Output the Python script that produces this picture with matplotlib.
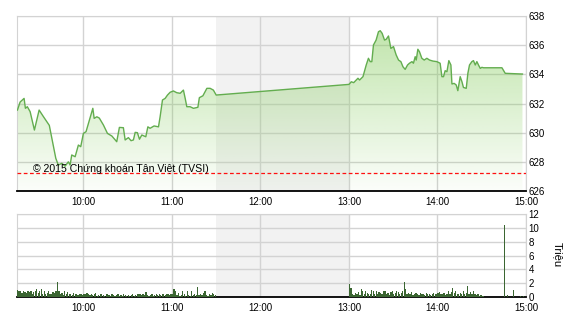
# -*- coding: utf-8 -*-
import numpy as np
import matplotlib
matplotlib.use('Agg')
import matplotlib.pyplot as plt
from matplotlib.patches import Polygon

plt.rcParams['font.family'] = ['Liberation Sans', 'DejaVu Sans']

# thoi gian (phut tu 0h) va gia chi so
t_price = [
  555.3, 557.1, 559.8, 560.7, 562.0, 563.9, 566.8, 570.0, 572.9, 576.9,
  579.3, 581.3, 583.0, 585.4, 587.6, 589.8, 591.0, 592.1, 594.4, 596.6,
  598.2, 600.0, 601.8, 604.1, 606.4, 607.3, 609.1, 610.8, 613.6, 616.3,
  619.3, 622.6, 624.4, 627.1, 628.3, 630.5, 632.3, 633.9, 635.1, 636.6,
  638.0, 639.6, 642.3, 643.7, 645.2, 647.9, 650.9, 652.0, 653.6, 655.4,
  657.0, 658.8, 661.0, 663.3, 665.6, 667.8, 669.0, 670.1, 672.3, 674.6,
  677.6, 678.6, 681.0, 683.7, 685.9, 688.1, 690.0,
  780.0, 781.6, 783.2, 785.0, 786.1, 787.2, 789.5, 791.7, 793.2, 794.4,
  795.5, 796.6, 798.4, 800.0, 801.2, 802.5, 804.1, 805.2, 806.8, 808.4,
  810.2, 812.0, 813.6, 815.2, 816.6, 818.1, 819.7, 821.0, 822.7, 823.7,
  824.9, 825.6, 826.7, 827.8, 829.4, 831.0, 832.8, 834.6, 836.9, 839.6,
  841.8, 843.0, 844.1, 845.2, 846.4, 847.7, 849.1, 849.8, 851.3, 852.7,
  853.8, 855.4, 856.6, 857.6, 859.5, 860.6, 861.7, 863.3, 864.4, 865.6,
  866.7, 867.8, 869.0, 870.1, 871.2, 883.7, 885.9, 897.6]
price = [
  631.55, 632.10, 632.35, 631.67, 631.78, 631.44, 630.18, 631.55, 631.10, 630.50,
  629.27, 628.24, 627.78, 627.90, 627.70, 628.00, 627.78, 628.47, 628.35, 629.15,
  629.04, 629.95, 630.07, 630.87, 631.67, 630.98, 631.09, 631.00, 630.52, 629.95,
  629.77, 629.38, 630.36, 630.34, 629.50, 629.66, 629.45, 629.50, 630.02, 630.00,
  629.55, 629.84, 629.72, 630.40, 630.30, 630.46, 630.40, 631.09, 632.24, 632.35,
  632.58, 632.77, 632.86, 632.74, 632.70, 632.92, 632.35, 631.78, 631.78, 631.67,
  631.74, 632.40, 632.53, 633.04, 633.04, 632.92, 632.58,
  633.31, 633.49, 633.43, 633.61, 633.73, 633.61, 633.84, 634.64, 635.10, 634.87,
  634.87, 636.01, 636.35, 636.92, 636.99, 636.81, 636.35, 636.40, 636.63, 635.78,
  635.90, 635.33, 634.98, 634.87, 634.52, 634.34, 634.64, 634.76, 634.87, 634.76,
  635.21, 634.98, 635.72, 635.55, 635.10, 634.98, 635.10, 634.98, 634.91, 634.87,
  634.76, 633.84, 633.84, 634.25, 634.18, 634.94, 634.64, 633.34, 633.38, 633.27,
  632.88, 633.84, 633.49, 633.10, 633.04, 634.07, 634.64, 634.87, 634.94, 634.64,
  634.87, 634.64, 634.41, 634.48, 634.45, 634.45, 634.07, 634.02]
ref_price = 627.22

# khoi luong (trieu), moi phut
vol_am_start = 555   # 9:15
vol_am = [
  1.0, 0.8, 0.9, 0.6, 0.8, 0.7, 0.6, 0.8, 0.7, 0.9, 0.5, 0.7, 0.8, 1.1, 0.6,
  0.9, 1.2, 0.5, 0.8, 0.4, 0.6, 0.9, 0.5, 0.4, 0.7, 0.6, 0.8, 2.2, 0.9, 0.4,
  0.6, 0.3, 0.9, 0.5, 0.7, 0.4, 0.5, 0.3, 0.6, 0.4, 0.5, 0.3, 0.4, 0.5, 0.3,
  0.5, 0.4, 0.6, 0.4, 0.3, 0.5, 0.3, 0.4, 0.6, 0.2, 0.3, 0.5, 0.4, 0.3, 0.2,
  0.4, 0.5, 0.3, 0.2, 0.4, 0.3, 0.2, 0.3, 0.4, 0.2, 0.3, 0.2, 0.4, 0.3, 0.2,
  0.3, 0.2, 0.3, 0.4, 0.2, 0.3, 0.5, 0.4, 0.4, 0.3, 0.4, 0.3, 0.7, 0.3, 0.2,
  0.3, 0.4, 0.2, 0.3, 0.5, 0.3, 0.4, 0.3, 0.4, 0.4, 0.3, 0.4, 0.5, 0.3, 0.4,
  0.4, 1.1, 0.9, 0.3, 0.6, 0.2, 0.3, 0.9, 0.4, 0.2, 0.8, 0.3, 0.2, 0.9, 0.3,
  0.4, 0.3, 1.4, 0.3, 0.4, 0.3, 0.6, 0.8, 0.3, 0.2, 0.5, 0.3, 0.6, 0.4, 0.3]
vol_pm_start = 780   # 13:00
vol_pm = [
  1.9, 1.3, 0.5, 0.3, 0.6, 0.4, 0.7, 0.3, 1.1, 0.9, 0.4, 0.8, 0.6, 0.5, 0.4,
  1.0, 0.8, 0.5, 0.9, 0.4, 0.7, 0.6, 0.5, 0.9, 0.8, 0.4, 0.6, 0.3, 0.7, 0.8,
  0.5, 0.6, 0.9, 0.7, 0.5, 0.6, 0.8, 2.2, 1.1, 0.5, 0.6, 0.4, 0.7, 0.3, 0.5,
  0.6, 0.4, 0.3, 0.6, 0.5, 0.4, 0.3, 0.6, 0.4, 0.5, 0.3, 0.4, 0.6, 0.5, 0.4,
  0.6, 0.7, 0.5, 0.4, 0.6, 0.3, 0.5, 0.8, 0.4, 0.7, 1.3, 0.6, 0.9, 0.5, 0.4,
  0.6, 0.5, 0.8, 0.4, 0.6, 1.6, 0.5, 0.7, 0.4, 0.9, 0.5, 0.3, 0.4, 0.2, 0.3,
  0.2, 0.1]
t_atc = [885, 887, 891, 896, 898]
vol_atc = [10.4, 0.3, 1.0, 0.2, 0.2]

xticks = [600, 660, 720, 780, 840, 900]
xlabels = ['10:00', '11:00', '12:00', '13:00', '14:00', '15:00']
lunch = (690, 780)
xmin, xmax = 555, 900

grid_c = '#d3d3d3'
line_c = '#63ad4f'
bar_c = '#3b6632'

fig = plt.figure(figsize=(5.7, 3.2), dpi=100)
ax1 = fig.add_axes([17/570, 1-191/320, 509/570, 175/320])
ax2 = fig.add_axes([17/570, 1-297/320, 509/570, 83/320])

for ax in (ax1, ax2):
    ax.set_xlim(xmin, xmax)
    ax.axvspan(*lunch, color='#f2f2f2', zorder=0, lw=0)
    ax.set_xticks(xticks)
    ax.set_xticklabels(xlabels)
    ax.grid(True, color=grid_c, lw=1)
    ax.set_axisbelow(True)
    ax.yaxis.tick_right()
    ax.tick_params(length=0, labelsize=7, pad=2, colors='black')
    for s in ('left', 'top', 'right'):
        ax.spines[s].set_color(grid_c)
    ax.spines['bottom'].set_color('black')
    ax.spines['bottom'].set_linewidth(1.3)

# bieu do gia
ax1.set_ylim(626, 638)
ax1.set_yticks(range(626, 639, 2))
ax1.tick_params(axis='x', pad=4)
verts = list(zip(t_price, price)) + [(t_price[-1], 626), (t_price[0], 626)]
poly = Polygon(verts, closed=True, facecolor='none', edgecolor='none')
ax1.add_patch(poly)
grad = np.zeros((256, 1, 4))
grad[:, 0, 0] = 0.52
grad[:, 0, 1] = 0.80
grad[:, 0, 2] = 0.36
grad[:, 0, 3] = np.linspace(0.5, 0.03, 256)
img = ax1.imshow(grad, extent=[xmin, xmax, 626, 637], aspect='auto',
                 origin='upper', zorder=1, interpolation='bilinear')
img.set_clip_path(poly)
ax1.set_ylim(626, 638)
ax1.plot(t_price, price, color=line_c, lw=1, zorder=3)
ax1.axhline(ref_price, color='#ff1010', lw=0.9, ls=(0, (3, 2)), zorder=3)
ax1.text(0.031, 0.126, u'© 2015 Chứng khoán Tân Việt (TVSI)', transform=ax1.transAxes,
         fontsize=7.6, va='center', ha='left', zorder=4)

# bieu do khoi luong
t_am = [vol_am_start + i for i in range(len(vol_am))]
t_pm = [vol_pm_start + i for i in range(len(vol_pm))]
for tt, vv in ((t_am, vol_am), (t_pm, vol_pm), (t_atc, vol_atc)):
    ax2.bar(tt, vv, width=0.85, align='edge', color=bar_c, lw=0, zorder=3)
ax2.set_ylim(0, 12)
ax2.set_yticks(range(0, 13, 2))
ax2.tick_params(axis='x', pad=4)
fig.text(558/570, 1-255/320, u'Triệu', rotation=270, fontsize=8,
         va='center', ha='center')

fig.savefig('out.png', dpi=100)
